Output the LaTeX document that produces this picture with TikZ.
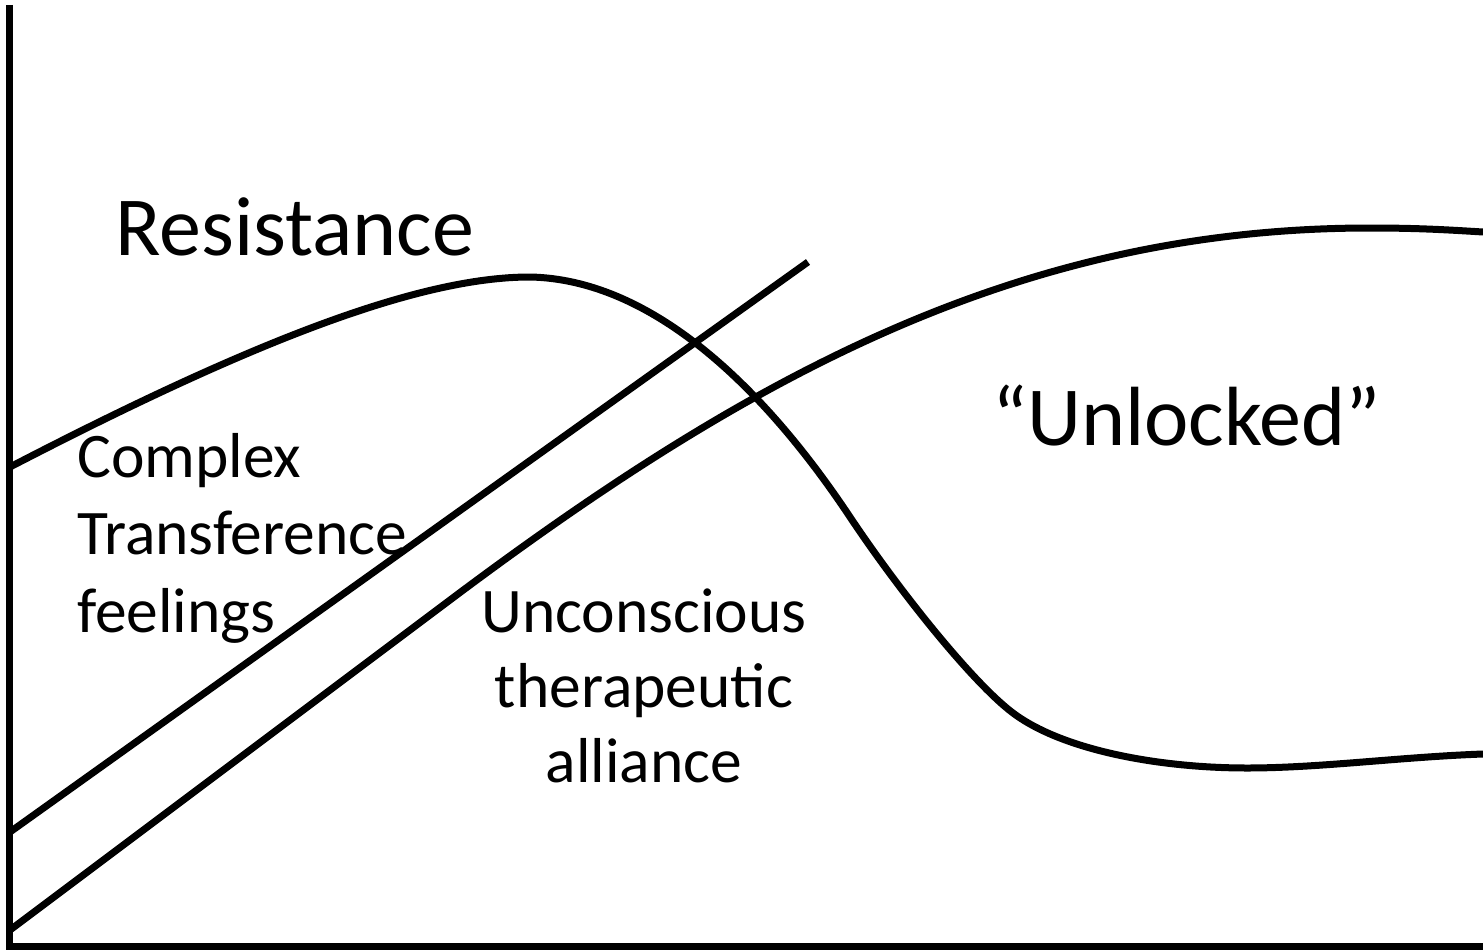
\documentclass[tikz,border=0pt]{standalone}
\usepackage{fontspec}
\setmainfont{Carlito}
\begin{document}
\begin{tikzpicture}[x=1pt,y=-1pt,
  curve/.style={line width=7pt, line join=round},
  axisline/.style={line width=7.5pt},
  lbl/.style={inner sep=0pt, anchor=base west}]
\useasboundingbox (0,0) rectangle (1483,950);
% axes
\coordinate (top) at (9.5,5);
\coordinate (origin) at (9.5,946.5);
\coordinate (xend) at (1483,946.5);
\draw[axisline] (top) -- (origin) -- (xend);
% resistance curve
\coordinate (r0) at (10,467);
\coordinate (r1) at (530,277);
\coordinate (r2) at (850,517);
\coordinate (r3) at (1013,713);
\coordinate (r4) at (1247,768);
\coordinate (r5) at (1483,754);
\draw[curve] (r0) .. controls (255,340) and (420,277) .. (r1)
  .. controls (680,280) and (800,442) .. (r2)
  .. controls (900,592) and (973,683) .. (r3)
  .. controls (1063,750.5) and (1160,768) .. (r4)
  .. controls (1320,768) and (1400,757) .. (r5);
% straight line (transference)
\coordinate (tA) at (10,832);
\coordinate (tB) at (808,262);
\draw[curve] (tA) -- (tB);
% alliance curve
\coordinate (a0) at (10,930);
\coordinate (a1) at (450,600);
\coordinate (a2) at (1370,228);
\coordinate (a3) at (1483,232);
\draw[curve] (a0) -- (a1) .. controls (750,375) and (1020,228) .. (a2)
  .. controls (1420,228) and (1450,230) .. (a3);
% labels
\node[lbl, font=\fontsize{84}{100}\selectfont] (res) at (115,255) {Resistance};
\node[lbl, align=left, font=\fontsize{63.5}{77.5}\selectfont] (ctf) at (77,632) {Complex\\Transference\\feelings};
\node[inner sep=0pt, anchor=base, align=center, font=\fontsize{63.5}{75}\selectfont] (uta) at (644,782) {Unconscious\\therapeutic\\alliance};
\node[lbl, font=\fontsize{84}{100}\selectfont] (unl) at (992,445) {“Unlocked”};
\end{tikzpicture}
\end{document}
